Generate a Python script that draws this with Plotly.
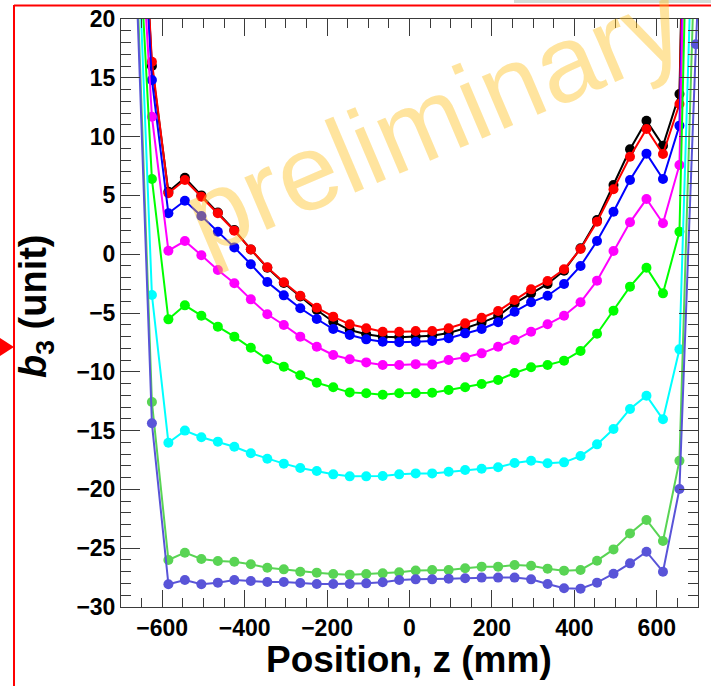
import plotly.graph_objects as go

# ---- data ----
z_mm = [-665, -625, -585, -545, -505, -465, -425, -385, -345, -305, -265, -225,
        -185, -145, -105, -65, -25, 15, 55, 95, 135, 175, 215, 255, 295, 335,
        375, 415, 455, 495, 535, 575, 615, 655, 695, 735]

b3_black = [42.5, 16.0, 5.3, 6.5, 5.0, 3.55, 2.05, 0.4, -1.15, -2.45, -3.6, -4.75,
            -5.74, -6.45, -6.81, -7.01, -7.07, -7.0, -6.93, -6.7, -6.3, -5.82, -5.26, -4.18,
            -3.33, -2.53, -1.4, 0.5, 2.91, 5.88, 8.92, 11.35, 9.23, 13.62, 80, 150]
b3_red = [42.0, 16.37, 5.18, 6.31, 4.89, 3.48, 2.0, 0.41, -1.12, -2.39, -3.53, -4.55,
          -5.31, -5.96, -6.3, -6.59, -6.59, -6.53, -6.53, -6.3, -5.88, -5.4, -4.83, -3.89,
          -2.99, -2.28, -1.28, 0.44, 2.76, 5.52, 8.29, 10.65, 8.52, 12.77, 80, 150]
b3_blue = [39.8, 14.81, 3.48, 4.55, 3.25, 1.91, 0.58, -0.86, -2.36, -3.5, -4.6, -5.51,
           -6.36, -6.87, -7.24, -7.44, -7.49, -7.44, -7.38, -7.15, -6.73, -6.36, -5.79, -4.89,
           -4.09, -3.53, -2.53, -1.0, 1.12, 3.61, 6.31, 8.55, 6.39, 10.93, 70, 140]
b3_magenta = [35.6, 11.69, 0.3, 1.12, -0.09, -1.34, -2.47, -3.84, -5.11, -6.02, -7.01, -7.87,
              -8.57, -8.94, -9.2, -9.42, -9.42, -9.35, -9.37, -9.0, -8.77, -8.43, -7.87, -7.3,
              -6.59, -5.96, -5.23, -4.09, -2.25, 0.27, 2.71, 4.69, 2.63, 7.59, 80, 140]
b3_green = [32.9, 6.39, -5.54, -4.35, -5.23, -6.16, -7.01, -7.95, -8.94, -9.56, -10.3, -10.93,
            -11.32, -11.75, -11.83, -11.95, -11.83, -11.83, -11.78, -11.55, -11.32, -11.04, -10.7, -10.1,
            -9.62, -9.42, -9.05, -8.23, -6.76, -4.8, -2.76, -1.15, -3.33, 1.91, 43, 120]
b3_cyan = [32.5, -3.47, -16.03, -15.0, -15.57, -15.94, -16.37, -16.93, -17.39, -17.81, -18.18, -18.44,
           -18.72, -18.89, -18.89, -18.86, -18.72, -18.64, -18.64, -18.5, -18.35, -18.24, -18.12, -17.76,
           -17.56, -17.78, -17.7, -17.16, -16.17, -14.86, -13.16, -12.03, -14.04, -8.09, 37.6, 110]
b3_green2 = [27.3, -12.57, -26.0, -25.38, -25.92, -26.09, -26.15, -26.37, -26.66, -26.8, -27.0, -27.08,
             -27.19, -27.25, -27.19, -27.14, -27.04, -26.9, -26.85, -26.85, -26.71, -26.57, -26.57, -26.43,
             -26.49, -26.74, -26.91, -26.85, -26.06, -25.1, -23.74, -22.6, -24.39, -17.56, 29.1, 100]
b3_purple = [25.6, -14.38, -28.07, -27.7, -28.07, -27.93, -27.7, -27.79, -27.87, -27.87, -27.96, -28.04,
             -28.04, -28.04, -27.99, -27.9, -27.7, -27.65, -27.65, -27.59, -27.56, -27.5, -27.5, -27.5,
             -27.65, -28.04, -28.41, -28.44, -27.93, -27.17, -26.29, -25.3, -27.0, -19.97, 17.85, 50]

series = [
    (b3_black, "#000000"),
    (b3_red, "#ff0000"),
    (b3_blue, "#0000ff"),
    (b3_magenta, "#ff00ff"),
    (b3_green, "#00ff00"),
    (b3_cyan, "#00ffff"),
    (b3_green2, "#59d454"),
    (b3_purple, "#5954d8"),
]

x_ticks = [-600, -400, -200, 0, 200, 400, 600]
y_ticks = [-30, -25, -20, -15, -10, -5, 0, 5, 10, 15, 20]

# ---- layout geometry (pixels) ----
W, H = 711, 686
L, R, T, B = 121, 13, 19, 79
PW, PH = W - L - R, H - T - B


def px(x):
    return (x - L) / PW


def py(y):
    return 1 - (y - T) / PH


fig = go.Figure()
for vals, col in series:
    fig.add_trace(go.Scatter(
        x=z_mm, y=vals, mode="lines+markers",
        line=dict(color=col, width=2),
        marker=dict(color=col, size=10, symbol="circle"),
        showlegend=False, cliponaxis=True,
    ))

FAM = "Liberation Sans, Arial, sans-serif"
axis_font = dict(family=FAM, size=23, color="black", weight="bold")
axcol = "#3a3a3a"

fig.update_xaxes(
    range=[-700, 700], tickvals=x_ticks, ticktext=[f"{v}".replace("-", "\u2212") for v in x_ticks],
    ticks="inside", ticklen=17, tickwidth=1, tickcolor=axcol,
    showline=True, linecolor=axcol, linewidth=1, mirror="ticks",
    showgrid=False, zeroline=False, tickfont=axis_font,
    minor=dict(dtick=50, tick0=0, ticks="inside", ticklen=9, tickcolor=axcol, tickwidth=1, showgrid=False),
)
fig.update_yaxes(
    range=[-30, 20], tickvals=y_ticks, ticktext=[f"{v}".replace("-", "\u2212") for v in y_ticks],
    ticks="inside", ticklen=19, tickwidth=1, tickcolor=axcol,
    showline=True, linecolor=axcol, linewidth=1, mirror="ticks",
    showgrid=False, zeroline=False, tickfont=axis_font,
    minor=dict(dtick=1, tick0=0, ticks="inside", ticklen=10, tickcolor=axcol, tickwidth=1, showgrid=False),
)

annotations = [
    dict(text="Position, z (mm)", xref="paper", yref="paper", x=px(409), y=py(659),
         xanchor="center", yanchor="middle", showarrow=False,
         font=dict(family=FAM, size=37, color="black", weight="bold")),
    dict(text="<i>b</i><sub>3</sub> (unit)", xref="paper", yref="paper", x=px(36), y=py(306),
         xanchor="center", yanchor="middle", showarrow=False, textangle=-90,
         font=dict(family=FAM, size=38, color="black", weight="bold")),
    dict(text="preliminary", xref="paper", yref="paper", x=px(433), y=py(118),
         xanchor="center", yanchor="middle", showarrow=False, textangle=-23,
         font=dict(family=FAM, size=108, color="rgba(255,196,40,0.45)")),
]

shapes = [
    # page artefacts: red frame lines, arrow and grey bar
    dict(type="line", xref="paper", yref="paper", x0=px(14), x1=px(14), y0=py(5), y1=py(690),
         line=dict(color="#ff0000", width=2)),
    dict(type="line", xref="paper", yref="paper", x0=px(14), x1=px(712), y0=py(5.5), y1=py(5.5),
         line=dict(color="#ff0000", width=2)),
    dict(type="path", xref="paper", yref="paper",
         path=f"M {px(0)} {py(338)} L {px(14)} {py(347)} L {px(0)} {py(356)} Z",
         fillcolor="#ff0000", line=dict(color="#ff0000", width=0)),
    dict(type="rect", xref="paper", yref="paper", x0=px(514), x1=px(712), y0=py(0), y1=py(3),
         fillcolor="#d3ddd8", line=dict(width=0)),
]

fig.update_layout(
    width=W, height=H, margin=dict(l=L, r=R, t=T, b=B, autoexpand=False),
    paper_bgcolor="white", plot_bgcolor="white",
    annotations=annotations, shapes=shapes, showlegend=False,
)

fig.write_html("out.html")
